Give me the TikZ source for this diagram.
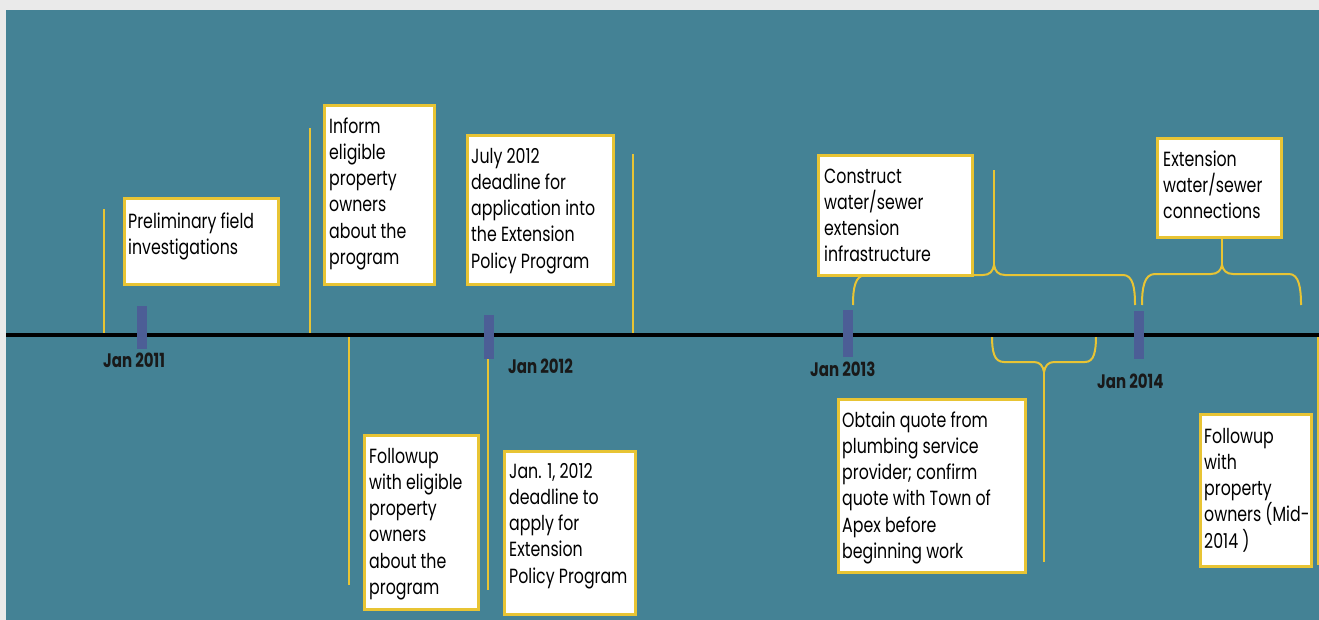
\documentclass[tikz,border=0pt]{standalone}
\usepackage{fontspec}
\setmainfont{Poppins}[FakeStretch=0.77]
\definecolor{bgteal}{RGB}{68,130,149}
\definecolor{gold}{RGB}{232,196,52}
\definecolor{tickblue}{RGB}{76,94,150}
\definecolor{framegray}{RGB}{234,234,234}
\begin{document}
\begin{tikzpicture}[x=1bp,y=-1bp,
  box/.style={draw=gold, line width=2.8bp, fill=white, inner sep=0, anchor=north west},
  txt/.style={anchor=north west, inner sep=0, align=left, font=\fontsize{20.5bp}{26.2bp}\selectfont, text=black},
  lab/.style={anchor=base west, inner sep=0, font=\fontsize{19.5bp}{22bp}\selectfont\bfseries, text=black!90},
  yline/.style={draw=gold, line width=2bp},
  tickbar/.style={fill=tickblue, draw=none, inner sep=0, minimum width=10bp, anchor=north west}]
\useasboundingbox (0,0) rectangle (1319,620);
\fill[framegray] (0,0) rectangle (1319,620);
\fill[bgteal] (6,10) rectangle (1319,620);

% vertical marker lines
\coordinate (l1a) at (104,209); \coordinate (l1b) at (104,333);
\coordinate (l2a) at (310,128); \coordinate (l2b) at (310,333);
\coordinate (l3a) at (349,337); \coordinate (l3b) at (349,585);
\coordinate (l4a) at (488,337); \coordinate (l4b) at (488,590);
\coordinate (l5a) at (633,154); \coordinate (l5b) at (633,333);
\coordinate (l6a) at (1318,337); \coordinate (l6b) at (1318,565);
\draw[yline] (l1a) -- (l1b);
\draw[yline] (l2a) -- (l2b);
\draw[yline] (l3a) -- (l3b);
\draw[yline] (l4a) -- (l4b);
\draw[yline] (l5a) -- (l5b);
\draw[yline] (l6a) -- (l6b);

% brace above: construct
\coordinate (br1l) at (853,305); \coordinate (br1r) at (1135,305);
\coordinate (br1t) at (994,265); \coordinate (br1top) at (994,170);
\draw[yline] (br1l) .. controls (853,288) and (855,275) .. (866,275) -- (983,275)
  .. controls (990,275) and (993,271) .. (br1t)
  .. controls (995,271) and (998,275) .. (1005,275) -- (1123,275)
  .. controls (1133,275) and (1135,288) .. (br1r);
\draw[yline] (br1t) -- (br1top);

% brace above: connections
\coordinate (br2l) at (1142,305); \coordinate (br2r) at (1301,305);
\coordinate (br2t) at (1222,265);
\draw[yline] (br2l) .. controls (1142,288) and (1144,274) .. (1155,274) -- (1211,274)
  .. controls (1218,274) and (1221,270) .. (br2t)
  .. controls (1223,270) and (1226,274) .. (1233,274) -- (1289,274)
  .. controls (1299,274) and (1301,288) .. (br2r);

% brace below: quote
\coordinate (br3l) at (992,335); \coordinate (br3r) at (1096,335);
\coordinate (br3t) at (1044,372); \coordinate (br3bot) at (1044,562);
\draw[yline] (br3l) .. controls (992,352) and (994,362) .. (1004,362) -- (1034,362)
  .. controls (1040,362) and (1043,366) .. (br3t)
  .. controls (1045,366) and (1048,362) .. (1054,362) -- (1085,362)
  .. controls (1094,362) and (1096,352) .. (br3r);
\draw[yline] (br3t) -- (br3bot);

% timeline
\coordinate (tl0) at (6,335); \coordinate (tl1) at (1319,335);
\draw[black, line width=4bp] (tl0) -- (tl1);

% year ticks
\node[tickbar, minimum height=43bp] (k1) at (137,306) {};
\node[tickbar, minimum height=44bp] (k2) at (484,315) {};
\node[tickbar, minimum height=47bp] (k3) at (843,310) {};
\node[tickbar, minimum height=48bp] (k4) at (1134,311) {};

\node[lab] (y1) at (103,367) {Jan 2011};
\node[lab] (y2) at (508,373) {Jan 2012};
\node[lab] (y3) at (810,376) {Jan 2013};
\node[lab] (y4) at (1097,388) {Jan 2014};

% boxes
\node[box, minimum width=154bp, minimum height=86bp] (b1) at (123,197) {};
\node[box, minimum width=110bp, minimum height=179bp] (b2) at (323,104) {};
\node[box, minimum width=146bp, minimum height=149bp] (b3) at (466,134) {};
\node[box, minimum width=114bp, minimum height=174bp] (b4) at (363,434) {};
\node[box, minimum width=131bp, minimum height=163bp] (b5) at (503,450) {};
\node[box, minimum width=154bp, minimum height=120bp] (b6) at (817,154) {};
\node[box, minimum width=124bp, minimum height=99bp] (b7) at (1156,137) {};
\node[box, minimum width=187bp, minimum height=173bp] (b8) at (837,398) {};
\node[box, minimum width=111bp, minimum height=152bp] (b9) at (1199,413) {};

\draw[yline] (br2t) -- (br2t |- b7.south);

\node[txt] (t1) at (128,210) {\rule{0pt}{18bp}Preliminary field\\investigations};
\node[txt] (t2) at (329,115) {\rule{0pt}{18bp}Inform\\eligible\\property\\owners\\about the\\program};
\node[txt] (t3) at (471,145) {\rule{0pt}{18bp}July 2012\\deadline for\\application into\\the Extension\\Policy Program};
\node[txt] (t4) at (369,445) {\rule{0pt}{18bp}Followup\\with eligible\\property\\owners\\about the\\program};
\node[txt] (t5) at (509,460) {\rule{0pt}{18bp}Jan. 1, 2012\\deadline to\\apply for\\Extension\\Policy Program};
\node[txt] (t6) at (824,165) {\rule{0pt}{18bp}Construct\\water/sewer\\extension\\infrastructure};
\node[txt] (t7) at (1163,148) {\rule{0pt}{18bp}Extension\\water/sewer\\connections};
\node[txt] (t8) at (842,409) {\rule{0pt}{18bp}Obtain quote from\\plumbing service\\provider; confirm\\quote with Town of\\Apex before\\beginning work};
\node[txt] (t9) at (1204,425) {\rule{0pt}{18bp}Followup\\with\\property\\owners (Mid-\\2014 )};
\end{tikzpicture}
\end{document}
